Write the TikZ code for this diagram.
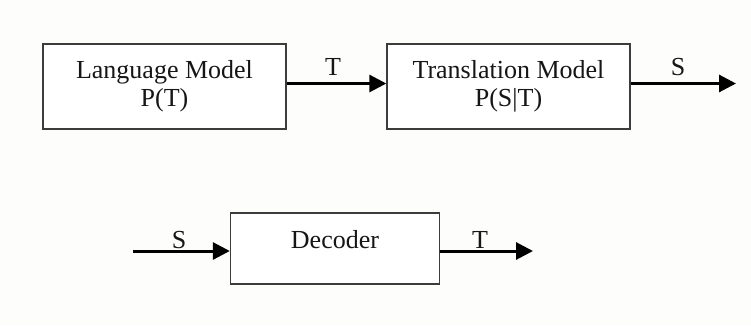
\documentclass[tikz,border=0pt]{standalone}
\usepackage{fontspec}
\setmainfont{Liberation Serif}
\usetikzlibrary{arrows.meta}
\definecolor{paper}{HTML}{FDFDFB}
\definecolor{frame}{HTML}{3C3C3C}
\definecolor{ink}{HTML}{161616}
\begin{document}
\begin{tikzpicture}[x=1pt,y=-1pt,
  blockbox/.style={draw=frame, line width=1.4pt, fill=white, text=ink,
    align=center, inner sep=0pt, font=\fontsize{26}{28}\selectfont},
  flow/.style={draw=black, line width=3pt,
    -{Triangle[length=17pt,width=17pt]}},
  tag/.style={text=ink, inner sep=0pt, font=\fontsize{26}{28}\selectfont}]
  % canvas
  \fill[paper] (0,0) rectangle (751,325);
  \useasboundingbox (0,0) rectangle (751,325);

  % upper chain: language model feeding the translation model
  \node[blockbox, minimum width=243pt, minimum height=85pt] (lm) at (164.5,86.5)
    {Language Model\\P(T)};
  \node[blockbox, minimum width=243pt, minimum height=85pt] (tm) at (508.5,86.5)
    {Translation Model\\P(S|T)};
  \coordinate (sout) at (736,83.5);
  \draw[flow] ([yshift=3pt]lm.east) -- ([yshift=3pt]tm.west);
  \draw[flow] ([yshift=3pt]tm.east) -- (sout);
  \node[tag] (tlab) at (333,67) {T};
  \node[tag] (slab) at (678,67) {S};

  % lower chain: the decoder
  \node[blockbox, minimum width=209pt, minimum height=71pt] (dec) at (335,248.5) {};
  \node[tag] (dectext) at (335,240) {Decoder};
  \coordinate (sin) at (133,251);
  \coordinate (tend) at (533,251);
  \draw[flow] (sin) -- (sin -| dec.west);
  \draw[flow] (sin -| dec.east) -- (tend);
  \node[tag] (slab2) at (179,240) {S};
  \node[tag] (tlab2) at (480,240) {T};
\end{tikzpicture}
\end{document}
